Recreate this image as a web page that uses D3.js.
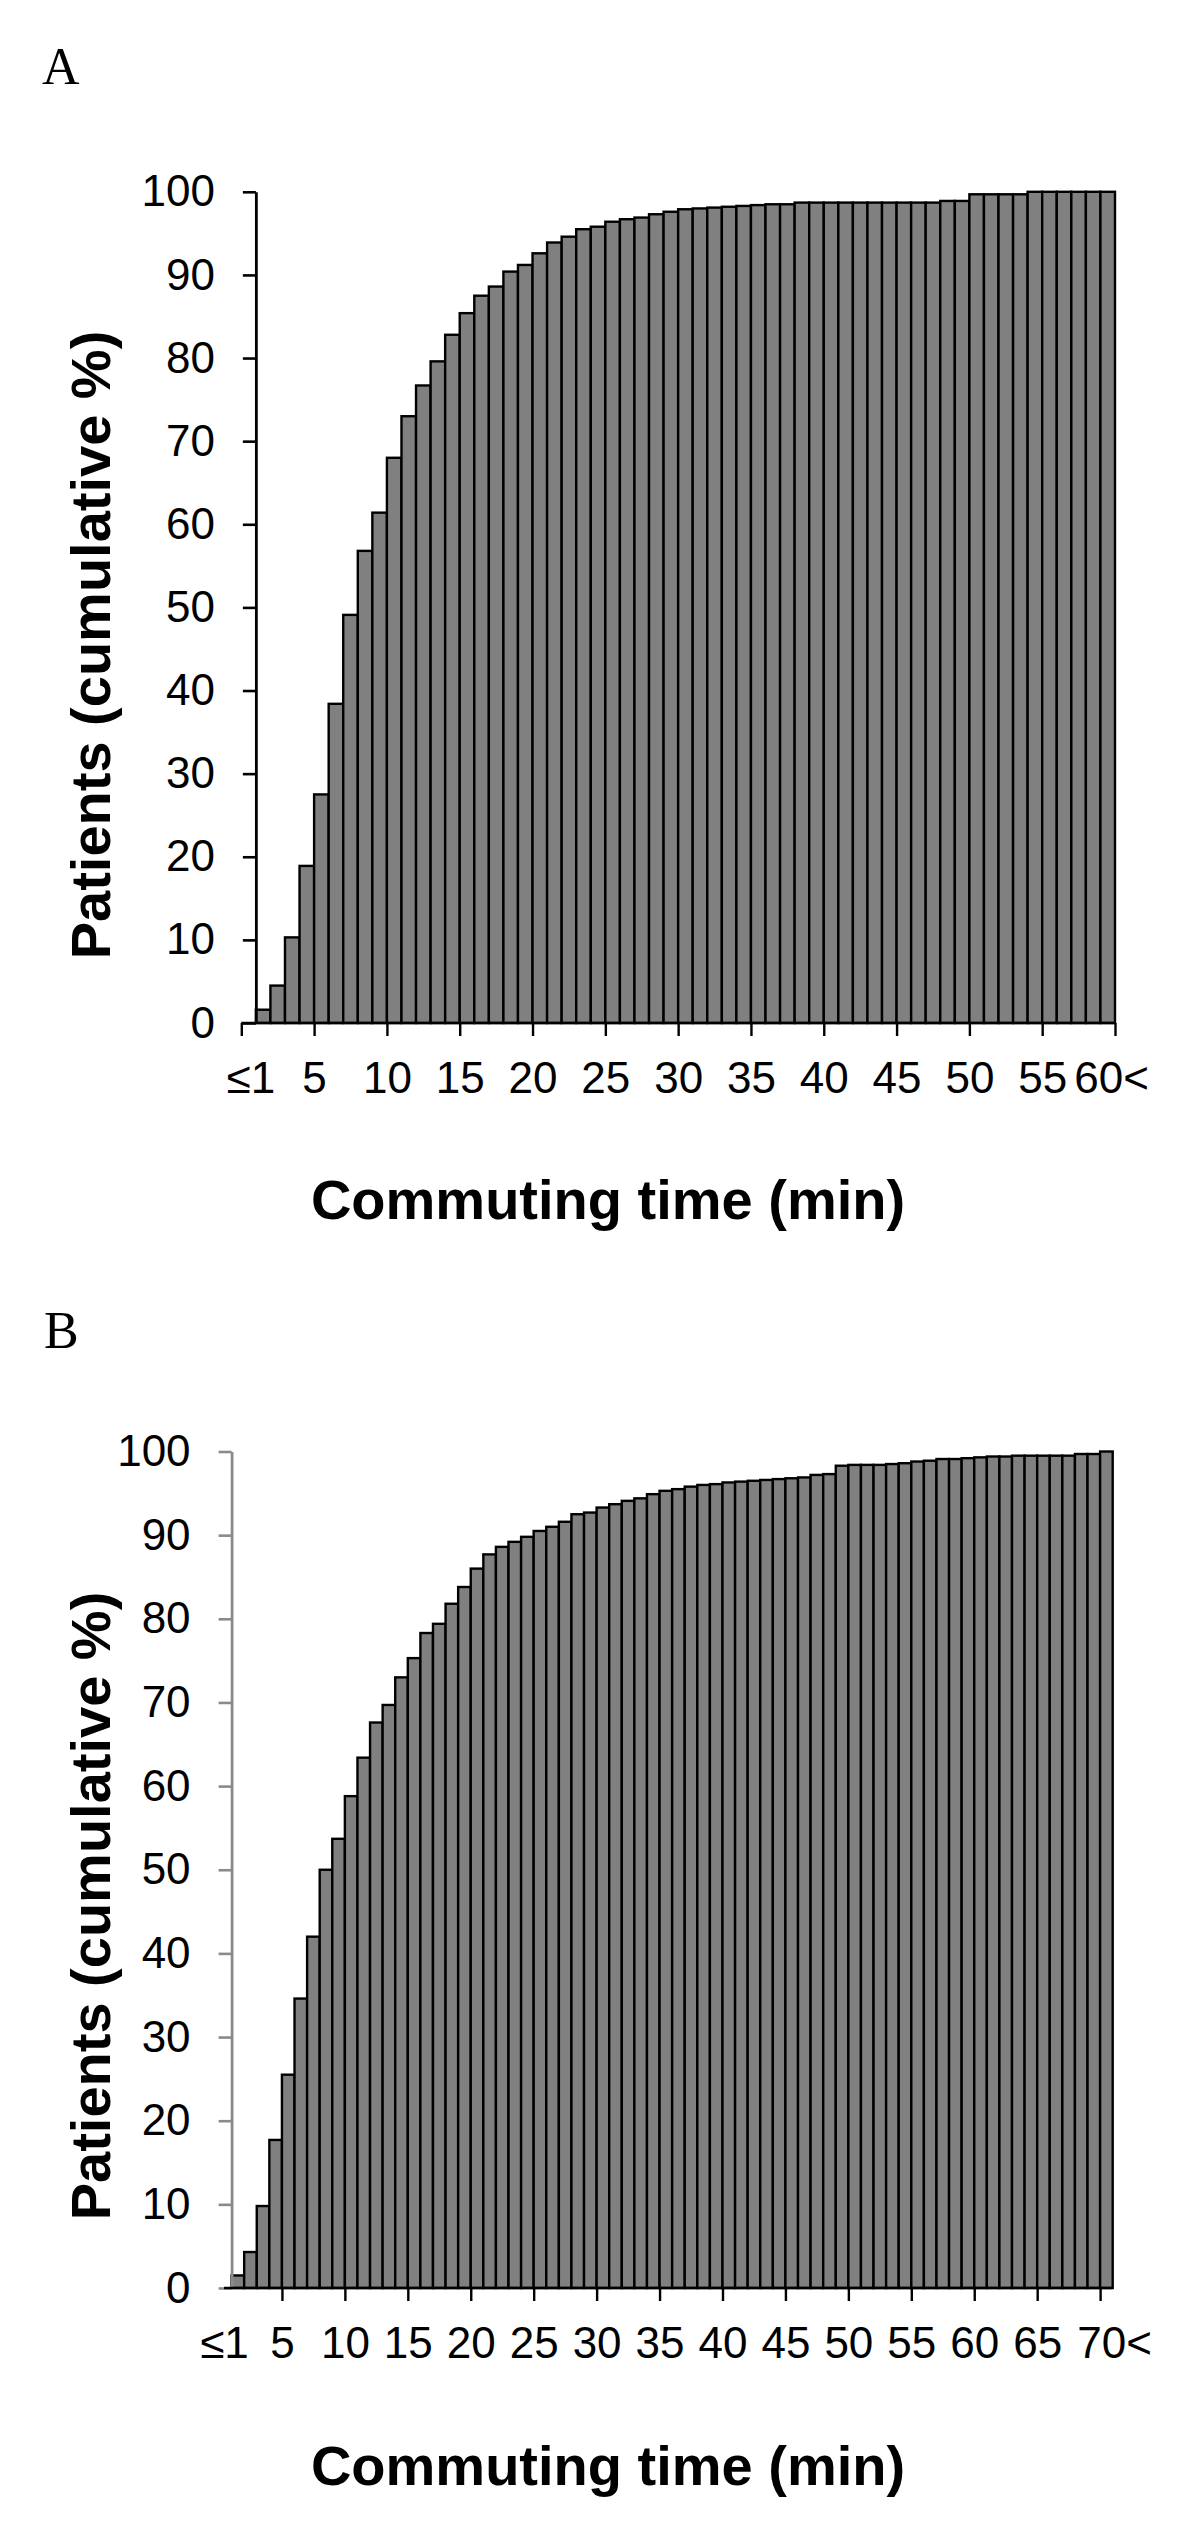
<!DOCTYPE html>
<html>
<head>
<meta charset="utf-8">
<script src="https://cdn.jsdelivr.net/npm/d3@7"></script>
<style>
  html, body { margin: 0; padding: 0; background: #fff; }
  svg { display: block; }
</style>
</head>
<body>
<script>
// ---------- DATA ----------
// Panel A: cumulative % of patients by commuting time (1-min bins)
const minutesA = [1,2,3,4,5,6,7,8,9,10,11,12,13,14,15,16,17,18,19,20,21,22,23,24,25,26,27,28,29,30,
  31,32,33,34,35,36,37,38,39,40,41,42,43,44,45,46,47,48,49,50,51,52,53,54,55,56,57,58,59];
const cumulativeA = [1.6,4.5,10.3,18.9,27.5,38.4,49.1,56.8,61.4,68.0,73.0,76.7,79.6,82.8,85.4,87.5,88.6,90.4,91.2,92.6,
  93.9,94.6,95.5,95.8,96.4,96.7,96.9,97.3,97.6,97.9,98.0,98.1,98.2,98.3,98.4,98.5,98.5,98.7,98.7,98.7,
  98.7,98.7,98.7,98.7,98.7,98.7,98.7,98.9,98.9,99.7,99.7,99.7,99.7,100,100,100,100,100,100];
const tickValuesA = [0,5,10,15,20,25,30,35,40,45,50,55,60];
const tickLabelsA = ["≤1","5","10","15","20","25","30","35","40","45","50","55","60<"];

// Panel B
const minutesB = [1,2,3,4,5,6,7,8,9,10,11,12,13,14,15,16,17,18,19,20,21,22,23,24,25,26,27,28,29,30,
  31,32,33,34,35,36,37,38,39,40,41,42,43,44,45,46,47,48,49,50,51,52,53,54,55,56,57,58,59,60,
  61,62,63,64,65,66,67,68,69,70];
const cumulativeB = [1.5,4.3,9.8,17.7,25.5,34.6,42.0,50.0,53.7,58.8,63.4,67.6,69.7,73.0,75.3,78.3,79.4,81.8,83.8,86.0,
  87.7,88.6,89.2,89.8,90.5,91.0,91.6,92.5,92.7,93.3,93.7,94.1,94.4,94.9,95.3,95.5,95.8,96.0,96.1,96.3,
  96.4,96.5,96.6,96.7,96.8,96.9,97.2,97.3,98.3,98.4,98.4,98.4,98.5,98.6,98.8,98.9,99.1,99.1,99.2,99.3,
  99.4,99.4,99.5,99.5,99.5,99.5,99.5,99.7,99.7,100];
const tickValuesB = [0,5,10,15,20,25,30,35,40,45,50,55,60,65,70];
const tickLabelsB = ["≤1","5","10","15","20","25","30","35","40","45","50","55","60","65","70<"];

const yTickValues = [0,10,20,30,40,50,60,70,80,90,100];
const panelLetters = ["A","B"];
const xTitle = "Commuting time (min)";
const yTitle = "Patients (cumulative %)";

// ---------- LAYOUT ----------
const W = 1200, H = 2535;
const svg = d3.select("body").append("svg").attr("width", W).attr("height", H)
  .style("background", "#fff");

const SANS = "'Liberation Sans', Arial, sans-serif";
const SERIF = "'Liberation Serif', 'Times New Roman', serif";

const panels = [
  { letter: panelLetters[0], minutes: minutesA, values: cumulativeA,
    tickValues: tickValuesA, tickLabels: tickLabelsA,
    xDomain: [0, 60], xRange: [241.3, 1115], yRange: [1023, 191.8],
    letterPos: [42, 84], yAxisColor: "#000", axisLeftExtra: null,
    noTickAt: [], firstDx: 9, lastDx: -4,
    xTitlePos: [608, 1219], yTitlePos: [110, 645] },
  { letter: panelLetters[1], minutes: minutesB, values: cumulativeB,
    tickValues: tickValuesB, tickLabels: tickLabelsB,
    xDomain: [0, 71], xRange: [219.0, 1112.7], yRange: [2288, 1451.5],
    letterPos: [44, 1348], yAxisColor: "#8a8a8a", axisLeftExtra: 7.6,
    noTickAt: [0], firstDx: 5, lastDx: 14,
    xTitlePos: [608, 2485], yTitlePos: [110, 1906] }
];

panels.forEach(p => {
  const x = d3.scaleLinear().domain(p.xDomain).range(p.xRange);
  const y = d3.scaleLinear().domain([0, 100]).range(p.yRange);
  const g = svg.append("g");

  // panel letter
  g.append("text").attr("x", p.letterPos[0]).attr("y", p.letterPos[1])
    .attr("font-family", SERIF).attr("font-size", 52).attr("fill", "#000")
    .text(p.letter);

  // bars
  g.append("g").selectAll("rect").data(p.minutes).join("rect")
    .attr("x", d => x(d))
    .attr("width", d => x(d + 1) - x(d))
    .attr("y", (d, i) => y(p.values[i]))
    .attr("height", (d, i) => y(0) - y(p.values[i]))
    .attr("fill", "#808080")
    .attr("stroke", "#000")
    .attr("stroke-width", 2.4);

  // y axis at the left edge of the first bar
  const yAxisX = x(p.minutes[0]);
  const yAxis = d3.axisLeft(y).tickValues(yTickValues).tickSize(13).tickSizeOuter(0).tickPadding(28);
  const ya = g.append("g").attr("transform", `translate(${yAxisX},0)`).call(yAxis);
  ya.select(".domain").attr("stroke", p.yAxisColor).attr("stroke-width", 2.8);
  ya.selectAll(".tick line").attr("stroke", p.yAxisColor).attr("stroke-width", 2.6);
  ya.selectAll(".tick text").attr("font-family", SANS).attr("font-size", 44).attr("fill", "#000");

  // x axis
  const xAxis = d3.axisBottom(x).tickValues(p.tickValues)
    .tickFormat((d, i) => p.tickLabels[i]).tickSize(13).tickSizeOuter(0).tickPadding(26);
  const xa = g.append("g").attr("transform", `translate(0,${y(0)})`).call(xAxis);
  xa.select(".domain").remove();
  const lineStart = p.axisLeftExtra != null ? yAxisX - p.axisLeftExtra : x(p.xDomain[0]);
  xa.append("line").attr("x1", lineStart).attr("x2", x(p.xDomain[1]))
    .attr("y1", 0).attr("y2", 0).attr("stroke", "#000").attr("stroke-width", 2.6);
  xa.selectAll(".tick line").attr("stroke", "#000").attr("stroke-width", 2.4)
    .attr("display", d => p.noTickAt.includes(d) ? "none" : null);
  const nT = p.tickValues.length;
  xa.selectAll(".tick text").attr("font-family", SANS).attr("font-size", 44).attr("fill", "#000")
    .attr("dx", (d, i) => i === 0 ? p.firstDx : (i === nT - 1 ? p.lastDx : 0));

  // x title
  g.append("text").attr("x", p.xTitlePos[0]).attr("y", p.xTitlePos[1])
    .attr("text-anchor", "middle").attr("font-family", SANS).attr("font-weight", "bold")
    .attr("font-size", 56).attr("fill", "#000").text(xTitle);

  // y title
  g.append("text")
    .attr("transform", `translate(${p.yTitlePos[0]},${p.yTitlePos[1]}) rotate(-90)`)
    .attr("text-anchor", "middle").attr("font-family", SANS).attr("font-weight", "bold")
    .attr("font-size", 56).attr("fill", "#000").text(yTitle);
});
</script>
</body>
</html>
